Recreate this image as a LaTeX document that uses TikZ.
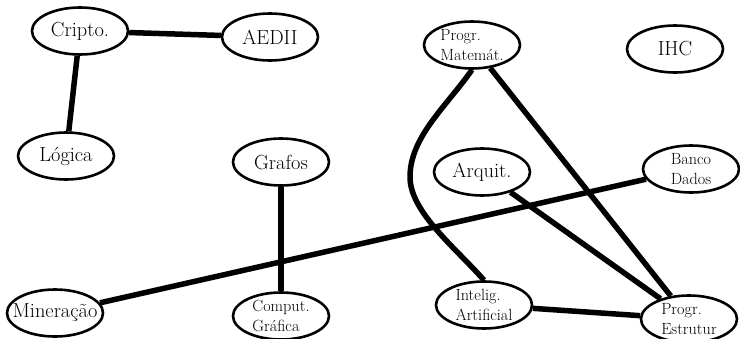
\documentclass[tikz,border=0pt]{standalone}
\usepackage{fontspec}
\usetikzlibrary{shapes.geometric}
\begin{document}
\begin{tikzpicture}[x=1pt,y=-1pt,
  ell/.style={draw, ellipse, line width=2.6pt, minimum width=96pt, minimum height=47pt, inner sep=0pt},
  big/.style={font=\fontsize{20.4pt}{24pt}\selectfont, inner sep=0pt, align=center},
  small/.style={font=\fontsize{16.2pt}{19.2pt}\selectfont, inner sep=0pt, align=left},
  edge/.style={line width=5.5pt}]
\useasboundingbox (0,0) rectangle (740,338);
\node[ell] (cripto) at (80,31) {};
\node[ell] (aedii) at (270,37) {};
\node[ell] (logica) at (66,156) {};
\node[ell] (grafos) at (281,162) {};
\node[ell] (pm) at (472,45) {};
\node[ell] (ihc) at (675,49) {};
\node[ell] (arq) at (482,172) {};
\node[ell] (bd) at (691,169) {};
\node[ell] (min) at (55,313) {};
\node[ell] (cg) at (281,316) {};
\node[ell] (ia) at (484,305) {};
\node[ell] (pe) at (689,319) {};
\node[big] (cripto-t) at (cripto) {Cripto.};
\node[big] (aedii-t) at (aedii) {AEDII};
\node[big] (logica-t) at (logica) {Lógica};
\node[big] (grafos-t) at (grafos) {Grafos};
\node[small] (pm-t) at (pm) {Progr.\\Matemát.};
\node[big] (ihc-t) at (ihc) {IHC};
\node[big] (arq-t) at (arq) {Arquit.};
\node[small, align=center] (bd-t) at (bd) {Banco\\Dados};
\node[big] (min-t) at (min) {Mineração};
\node[small] (cg-t) at (cg) {Comput.\\Gráfica};
\node[small] (ia-t) at (ia) {Intelig.\\Artificial};
\node[small] (pe-t) at (pe) {Progr.\\Estrutur};
\coordinate (bend) at (410,177);
\draw[edge] (cripto) -- (aedii);
\draw[edge] (cripto) -- (logica);
\draw[edge] (grafos) -- (cg);
\draw[edge] (min) -- (bd);
\draw[edge] (pm.south) .. controls +(-26,37) and +(0,-40) .. (bend) .. controls +(0,35) and +(-28,-32) .. (ia.north);
\draw[edge] (pm) -- (pe);
\draw[edge] (arq) -- (pe);
\draw[edge] (ia) -- (pe);
\end{tikzpicture}
\end{document}
